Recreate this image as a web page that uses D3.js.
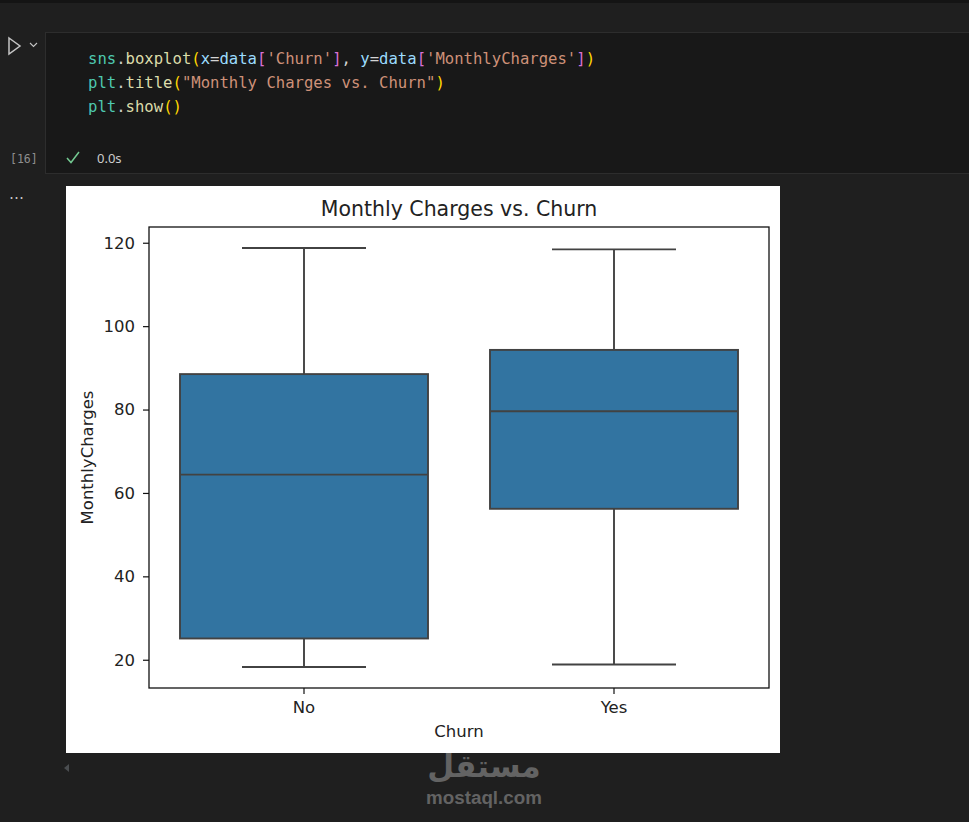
<!DOCTYPE html>
<html>
<head>
<meta charset="utf-8">
<script src="https://cdn.jsdelivr.net/npm/d3@7"></script>
<style>
  body { margin:0; background:#1f1f1f; overflow:hidden; }
  svg { display:block; }
</style>
</head>
<body>
<div id="nb"></div>
<script>
// box stats
var categories = ["No", "Yes"];
var whiskerLow  = [18.25, 18.85];
var q1          = [25.1, 56.2];
var median      = [64.4, 79.6];
var q3          = [88.5, 94.3];
var whiskerHigh = [118.75, 118.4];
var yTicks = [20, 40, 60, 80, 100, 120];

var W = 969, H = 822;
var svg = d3.select("#nb").append("svg").attr("width", W).attr("height", H);

// notebook chrome
svg.append("rect").attr("width", W).attr("height", H).attr("fill", "#1f1f1f");
svg.append("rect").attr("width", W).attr("height", 3).attr("fill", "#141414");
svg.append("rect").attr("x", 45.5).attr("y", 32.5).attr("width", 940).attr("height", 141)
   .attr("fill", "#181818").attr("stroke", "#2d2d2d");

// run button + chevron
svg.append("path").attr("d", "M9,38 L20,46 L9,54 Z").attr("fill", "none")
   .attr("stroke", "#c5c5c5").attr("stroke-width", 1.5);
svg.append("path").attr("d", "M30,43 L33.5,46.5 L37,43").attr("fill", "none")
   .attr("stroke", "#c5c5c5").attr("stroke-width", 1.1);

var mono = "'DejaVu Sans Mono', 'Liberation Mono', monospace";
var codeLines = [
  [["sns","#4ec9b0"],[".","#cccccc"],["boxplot","#dcdcaa"],["(","#ffd700"],["x","#9cdcfe"],["=","#d4d4d4"],["data","#9cdcfe"],["[","#da70d6"],["'Churn'","#ce9178"],["]","#da70d6"],[", ","#d4d4d4"],["y","#9cdcfe"],["=","#d4d4d4"],["data","#9cdcfe"],["[","#da70d6"],["'MonthlyCharges'","#ce9178"],["]","#da70d6"],[")","#ffd700"]],
  [["plt","#4ec9b0"],[".","#cccccc"],["title","#dcdcaa"],["(","#ffd700"],["\"Monthly Charges vs. Churn\"","#ce9178"],[")","#ffd700"]],
  [["plt","#4ec9b0"],[".","#cccccc"],["show","#dcdcaa"],["()","#ffd700"]]
];
codeLines.forEach(function(line, i) {
  var t = svg.append("text").attr("x", 88).attr("y", 64 + i * 24)
     .attr("font-family", mono).attr("font-size", "15.6px").attr("xml:space", "preserve");
  line.forEach(function(p) { t.append("tspan").attr("fill", p[1]).text(p[0]); });
});

svg.append("text").attr("x", 10).attr("y", 163).attr("fill", "#8f8f8f")
   .attr("font-family", "'DejaVu Sans Mono', monospace").attr("font-size", "11.5px").text("[16]");
svg.append("path").attr("d", "M67,158 L71,162.5 L79,152").attr("fill", "none")
   .attr("stroke", "#73c991").attr("stroke-width", 1.5);
svg.append("text").attr("x", 97).attr("y", 163).attr("fill", "#cccccc")
   .attr("font-family", "'Noto Sans', sans-serif").attr("font-size", "13px").text("0.0s");
svg.append("text").attr("x", 9).attr("y", 199).attr("fill", "#c5c5c5")
   .attr("font-family", "'DejaVu Sans', sans-serif").attr("font-size", "15px").text("\u2026").attr("letter-spacing", "1px");

// output image
svg.append("rect").attr("x", 66).attr("y", 186).attr("width", 714).attr("height", 567).attr("fill", "#ffffff");
svg.append("path").attr("d", "M69,764 L64,768 L69,772 Z").attr("fill", "#4a4d50");

// chart
var plotLeft = 149, plotRight = 769, plotTop = 227, plotBottom = 688;
var x = d3.scaleBand().domain(categories).range([plotLeft, plotRight]).padding(0);
var y = d3.scaleLinear().domain([13.225, 123.775]).range([plotBottom, plotTop]);
var bw = x.bandwidth();
var sans = "'DejaVu Sans', sans-serif";
var lineCol = "#424242";

var g = svg.append("g");
categories.forEach(function(c, i) {
  var cx = x(c) + bw / 2;
  // whiskers
  g.append("line").attr("x1", cx).attr("x2", cx).attr("y1", y(q3[i])).attr("y2", y(whiskerHigh[i]))
   .attr("stroke", lineCol).attr("stroke-width", 1.9);
  g.append("line").attr("x1", cx).attr("x2", cx).attr("y1", y(q1[i])).attr("y2", y(whiskerLow[i]))
   .attr("stroke", lineCol).attr("stroke-width", 1.9);
  g.append("line").attr("x1", cx - bw * 0.2).attr("x2", cx + bw * 0.2)
   .attr("y1", y(whiskerHigh[i])).attr("y2", y(whiskerHigh[i])).attr("stroke", lineCol).attr("stroke-width", 1.9);
  g.append("line").attr("x1", cx - bw * 0.2).attr("x2", cx + bw * 0.2)
   .attr("y1", y(whiskerLow[i])).attr("y2", y(whiskerLow[i])).attr("stroke", lineCol).attr("stroke-width", 1.9);
  // box
  g.append("rect").attr("x", cx - bw * 0.4).attr("width", bw * 0.8)
   .attr("y", y(q3[i])).attr("height", y(q1[i]) - y(q3[i]))
   .attr("fill", "#3274a1").attr("stroke", lineCol).attr("stroke-width", 1.9);
  g.append("line").attr("x1", cx - bw * 0.4).attr("x2", cx + bw * 0.4)
   .attr("y1", y(median[i])).attr("y2", y(median[i])).attr("stroke", lineCol).attr("stroke-width", 1.9);
});

// frame
svg.append("rect").attr("x", plotLeft).attr("y", plotTop).attr("width", plotRight - plotLeft)
   .attr("height", plotBottom - plotTop)
   .attr("fill", "none").attr("stroke", "#111").attr("stroke-width", 1.3);

var yAxis = d3.axisLeft(y).tickValues(yTicks).tickSize(6).tickPadding(8);
var ya = svg.append("g").attr("transform", "translate(" + plotLeft + ",0)").call(yAxis);
var xAxis = d3.axisBottom(x).tickSize(6).tickPadding(6);
var xa = svg.append("g").attr("transform", "translate(0," + plotBottom + ")").call(xAxis);
[ya, xa].forEach(function(a) {
  a.select(".domain").remove();
  a.selectAll(".tick line").attr("stroke", "#111").attr("stroke-width", 1.2);
  a.selectAll(".tick text").attr("fill", "#222").attr("font-family", sans).attr("font-size", "16.5px");
});
xa.selectAll(".tick text").attr("dy", "0.78em");

svg.append("text").attr("x", (plotLeft + plotRight) / 2).attr("y", 216).attr("text-anchor", "middle")
   .attr("fill", "#222").attr("font-family", sans).attr("font-size", "20.5px").text("Monthly Charges vs. Churn");
svg.append("text").attr("x", (plotLeft + plotRight) / 2).attr("y", 737).attr("text-anchor", "middle")
   .attr("fill", "#222").attr("font-family", sans).attr("font-size", "16.5px").text("Churn");
svg.append("text").attr("transform", "translate(93," + (plotTop + plotBottom) / 2 + ") rotate(-90)")
   .attr("text-anchor", "middle").attr("fill", "#222").attr("font-family", sans).attr("font-size", "16.5px")
   .text("MonthlyCharges");

// watermark
svg.append("text").attr("x", 484).attr("y", 777).attr("text-anchor", "middle")
   .attr("fill", "#636363").attr("font-family", "'Noto Sans', 'DejaVu Sans', sans-serif").attr("font-weight", "bold")
   .attr("font-size", "31px").attr("direction", "rtl").text("مستقل");
svg.append("text").attr("x", 484).attr("y", 804).attr("text-anchor", "middle")
   .attr("fill", "#636363").attr("font-family", "'Liberation Sans', Arial, sans-serif").attr("font-weight", "bold")
   .attr("font-size", "18.8px").text("mostaql.com");
</script>
</body>
</html>
